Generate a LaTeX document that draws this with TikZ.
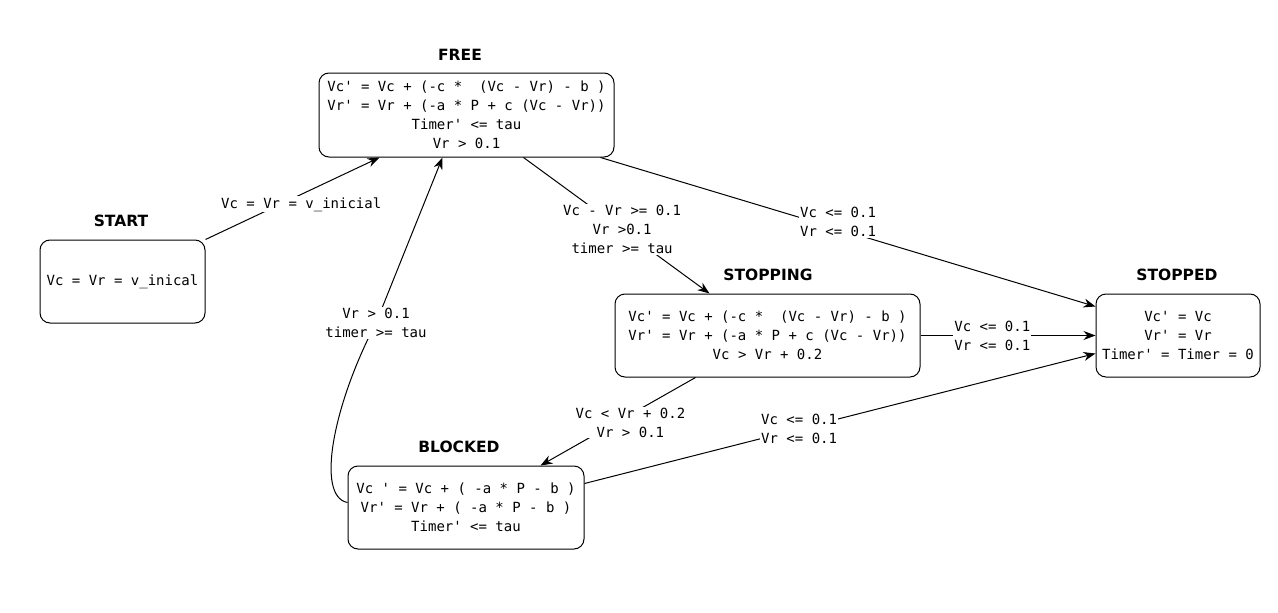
\documentclass[tikz,border=0pt]{standalone}
\usepackage{fontspec}
\setmainfont{DejaVu Sans}
\setmonofont{DejaVu Sans Mono}
\usetikzlibrary{arrows.meta,calc}
\begin{document}
\begin{tikzpicture}[x=1pt,y=-1pt,
  state/.style={draw, rounded corners=10pt, line width=1pt, align=center,
    inner sep=0pt, font=\fontsize{14}{19}\selectfont\ttfamily},
  title/.style={font=\fontsize{15.5}{18}\selectfont\bfseries, inner sep=0pt},
  edge/.style={line width=1pt, -{Stealth[length=12pt,width=9pt]}},
  lab/.style={fill=white, inner sep=1pt, align=center,
    font=\fontsize{14}{19}\selectfont\ttfamily}]
\useasboundingbox (0,0) rectangle (1278,613);

% states
\node[state, minimum width=295pt, minimum height=84pt] (free) at (466.5,115)
  {Vc' = Vc + (-c * ~(Vc - Vr) - b )\\Vr' = Vr + (-a * P + c (Vc - Vr))\\Timer' <= tau\\Vr > 0.1};
\node[state, minimum width=165pt, minimum height=83pt] (start) at (122.5,281.5)
  {Vc = Vr = v\_inical};
\node[state, minimum width=305pt, minimum height=83pt] (stopping) at (767.5,335.5)
  {Vc' = Vc + (-c * ~(Vc - Vr) - b )\\Vr' = Vr + (-a * P + c (Vc - Vr))\\Vc > Vr + 0.2};
\node[state, minimum width=164pt, minimum height=83pt] (stopped) at (1178,335.5)
  {Vc' = Vc\\Vr' = Vr\\Timer' = Timer = 0};
\node[state, minimum width=236pt, minimum height=83pt] (blocked) at (466,507.5)
  {Vc ' = Vc + ( -a * P - b )\\Vr' = Vr + ( -a * P - b )\\Timer' <= tau};

% titles
\node[title] (tfree) at (460,55) {FREE};
\node[title] (tstart) at (121,221) {START};
\node[title] (tstopping) at (768,275) {STOPPING};
\node[title] (tstopped) at (1177,275) {STOPPED};
\node[title] (tblocked) at (459,447) {BLOCKED};

% transitions
\draw[edge] (start.north east) -- ([xshift=61pt]free.south west)
  node[lab, pos=0.55, yshift=-10pt] {Vc = Vr = v\_inicial};

\coordinate (bmid) at (376,323);
\draw[edge] ([yshift=-37pt]blocked.north west) .. controls +(-32,-6) and (333,405) .. (bmid)
  -- ([xshift=124pt]free.south west);
\node[lab] (lbf) at (bmid) {Vr > 0.1\\timer >= tau};

\draw[edge] ([xshift=205pt]free.south west) -- ([xshift=95pt]stopping.north west)
  node[lab, pos=0.53] {Vc - Vr >= 0.1\\Vr >0.1\\timer >= tau};

\draw[edge] ([xshift=282pt]free.south west) -- ([yshift=-13pt]stopped.north west)
  node[lab, pos=0.48, yshift=7pt] {Vc <= 0.1\\Vr <= 0.1};

\draw[edge] (stopping.east) -- (stopped.west)
  node[lab, pos=0.41] {Vc <= 0.1\\Vr <= 0.1};

\draw[edge] ([xshift=81pt]stopping.south west) -- ([xshift=193pt]blocked.north west)
  node[lab, pos=0.42, yshift=-8pt] {Vc < Vr + 0.2\\Vr > 0.1};

\draw[edge] ([yshift=-18pt]blocked.north east) -- ([yshift=-60pt]stopped.north west)
  node[lab, pos=0.42] {Vc <= 0.1\\Vr <= 0.1};
\end{tikzpicture}
\end{document}
